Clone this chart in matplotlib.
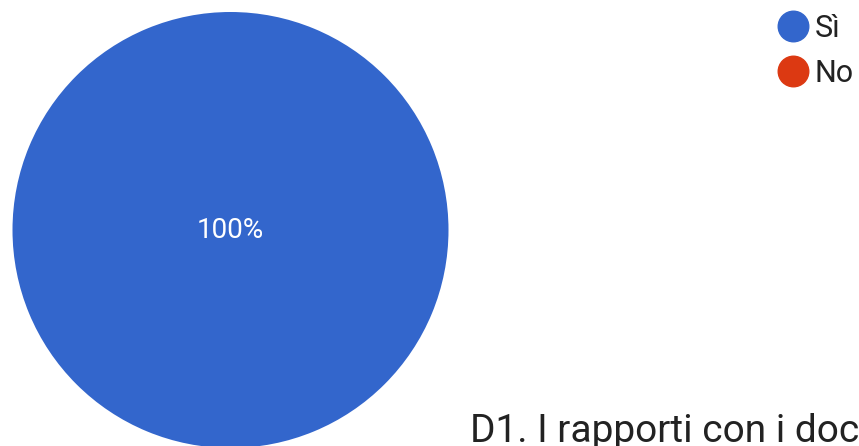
import matplotlib.pyplot as plt
from matplotlib.lines import Line2D

plt.rcParams['font.family'] = ['Roboto', 'DejaVu Sans']

labels = ['Sì', 'No']
values = [100, 0]
colors = ['#3366cc', '#dc3912']
title = 'D1. I rapporti con i doc'

fig = plt.figure(figsize=(8.59, 4.46), dpi=100)
ax = fig.add_axes([0, 0, 1, 1])

wedges, texts, autotexts = ax.pie(values, colors=colors, center=(230.5, 230), radius=218,
                                  startangle=90, counterclock=False, autopct='%1.0f%%',
                                  pctdistance=0.0, frame=True,
                                  textprops={'color': 'white', 'fontsize': 20})
for t in autotexts:
    if t.get_text() == '0%':
        t.set_visible(False)
ax.set_xlim(0, 859)
ax.set_ylim(446, 0)
ax.set_aspect('equal')
ax.axis('off')

handles = [Line2D([], [], marker='o', linestyle='', markersize=22,
                  markerfacecolor=c, markeredgecolor=c) for c in colors]
leg = ax.legend(handles, labels, loc='upper left', bbox_to_anchor=(778 / 859, 1 - 14 / 446),
                frameon=False, fontsize=22, handletextpad=0.2, labelspacing=0.52,
                handlelength=1.0, borderpad=0, borderaxespad=0, labelcolor='#222222')

ax.text(470, 442, title, fontsize=28, color='#222222', ha='left', va='baseline', clip_on=False)

fig.savefig('out.png', dpi=100)
